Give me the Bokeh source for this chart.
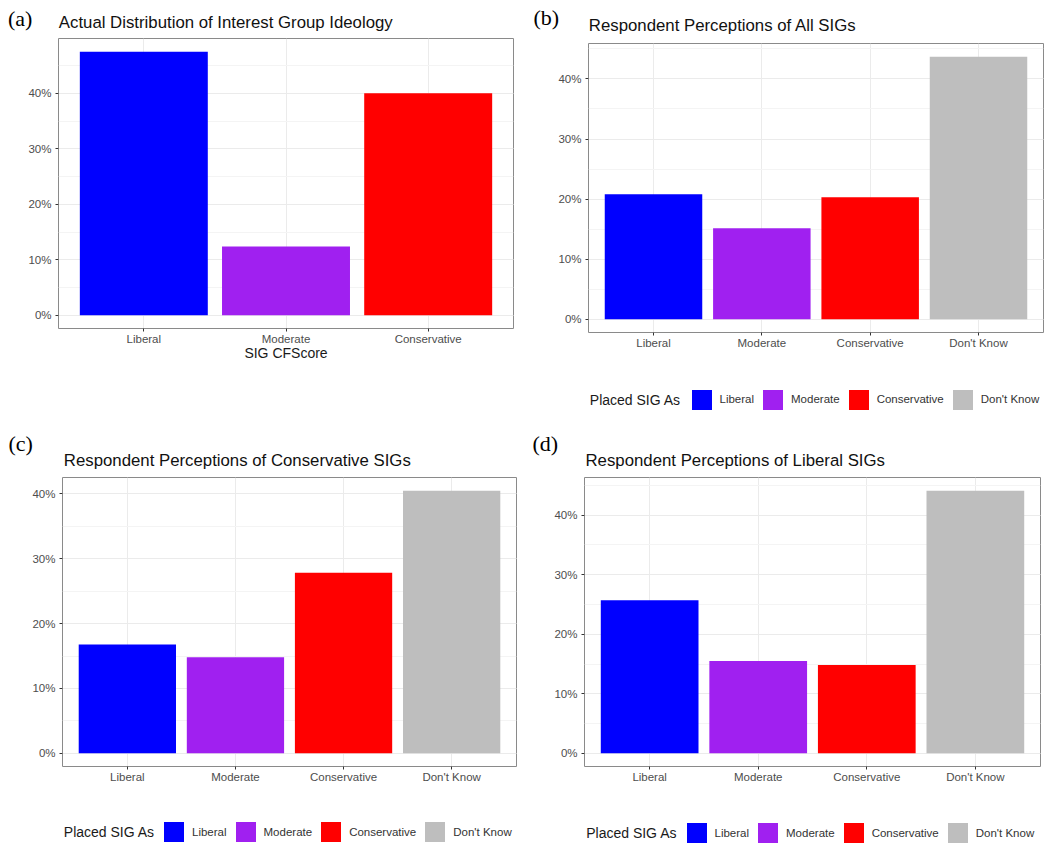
from bokeh.plotting import figure
from bokeh.models import (Range1d, FixedTicker, SingleIntervalTicker, PrintfTickFormatter,
                          ColumnDataSource, Legend, LegendItem, Label)
from bokeh.layouts import row, column
from bokeh.embed import file_html
from bokeh.resources import INLINE

# ---------------- data ----------------
cats_actual = ["Liberal", "Moderate", "Conservative"]
cats_placed = ["Liberal", "Moderate", "Conservative", "Don't Know"]
bar_colors = ["#0000FF", "#A020F0", "#FF0000", "#BEBEBE"]

actual_pct = [47.5, 12.4, 40.0]                 # (a) SIG CFScore distribution
all_sigs_pct = [20.8, 15.15, 20.3, 43.7]        # (b) all SIGs
cons_sigs_pct = [16.8, 14.8, 27.85, 40.5]       # (c) conservative SIGs
lib_sigs_pct = [25.7, 15.5, 14.85, 44.1]        # (d) liberal SIGs

titles = ["Actual Distribution of Interest Group Ideology",
          "Respondent Perceptions of All SIGs",
          "Respondent Perceptions of Conservative SIGs",
          "Respondent Perceptions of Liberal SIGs"]
letters = ["(a)", "(b)", "(c)", "(d)"]
xlabel_a = "SIG CFScore"
legend_title = "Placed SIG As"

FONT = "Liberation Sans"
SERIF = "Liberation Serif"


def blank_fig(w, h, **kw):
    f = figure(width=w, height=h, min_border=0, x_range=Range1d(0, w), y_range=Range1d(h, 0),
               x_axis_type=None, y_axis_type=None, output_backend="svg",
               toolbar_location=None, **kw)
    f.outline_line_color = None
    f.background_fill_color = "white"
    f.border_fill_color = "white"
    return f


def header_fig(w, h, letter, lpos, title, tpos):
    f = blank_fig(w, h)
    f.add_layout(Label(x=lpos[0], y=lpos[1], text=letter, text_font=SERIF,
                       text_font_size="22px", text_color="#000000",
                       text_baseline="alphabetic", text_align="left"))
    f.add_layout(Label(x=tpos[0], y=tpos[1], text=title, text_font=FONT,
                       text_font_size="16.8px", text_color="#111111",
                       text_baseline="alphabetic", text_align="left"))
    return row(f, spacing=0)


def legend_fig(w, h, cats, cols, item_left, item_top, tpos):
    f = blank_fig(w, h, extra_x_ranges={"off": Range1d(-1001, -1000)})
    # zero-height swatch carriers for the legend keys (not visible)
    sw = ColumnDataSource(dict(x=list(range(1, len(cats) + 1)), color=cols[:len(cats)]))
    r = f.vbar(x="x", top=0, bottom=0, width=0.9, fill_color="color", line_color=None,
               source=sw, x_range_name="off")
    items = [LegendItem(label=c, renderers=[r], index=i) for i, c in enumerate(cats)]
    leg = Legend(items=items, orientation="horizontal",
                 location=(item_left, h - 25 - item_top),
                 glyph_width=25, glyph_height=25, label_standoff=6, spacing=6,
                 padding=0, margin=0, label_height=25, label_width=10,
                 label_text_font=FONT, label_text_font_size="11.5px",
                 label_text_color="#333333", background_fill_alpha=0,
                 border_line_color=None)
    f.add_layout(leg, "center")
    f.add_layout(Label(x=tpos[0], y=tpos[1], text=legend_title, text_font=FONT,
                       text_font_size="14px", text_color="#1a1a1a",
                       text_baseline="alphabetic", text_align="left"))
    return row(f, spacing=0)


def bar_fig(cats, vals, cols, g, xlabel=None):
    n = len(cats)
    xs = list(range(1, n + 1))
    vmax = max(vals)
    p = figure(width=g["w"], height=g["h"],
               min_border_left=g["l"], min_border_right=g["r"],
               min_border_top=g["t"], min_border_bottom=g["b"],
               x_range=Range1d(1 - 0.6, n + 0.6),
               y_range=Range1d(-0.05 * vmax, 1.05 * vmax),
               output_backend="svg", toolbar_location=None)
    p.background_fill_color = "white"
    p.border_fill_color = "white"
    p.outline_line_color = "#8a8a8a"
    p.outline_line_width = 1

    src = ColumnDataSource(dict(x=xs, top=vals, cat=cats, color=cols[:n]))
    p.vbar(x="x", top="top", bottom=0, width=0.9, fill_color="color",
           line_color=None, source=src)

    xt = FixedTicker(ticks=xs, minor_ticks=[])
    yt = SingleIntervalTicker(interval=10, num_minor_ticks=2)
    p.xaxis.ticker = xt
    p.xgrid.ticker = xt
    p.yaxis.ticker = yt
    p.ygrid.ticker = yt
    p.xaxis.major_label_overrides = {x: c for x, c in zip(xs, cats)}
    p.yaxis.formatter = PrintfTickFormatter(format="%d%%")
    for ax in (p.xaxis, p.yaxis):
        ax.axis_line_color = None
        ax.major_tick_line_color = "#333333"
        ax.major_tick_in = 0
        ax.major_tick_out = 3
        ax.minor_tick_line_color = None
        ax.major_label_text_font = FONT
        ax.major_label_text_font_size = "11.5px"
        ax.major_label_text_color = "#4d4d4d"
    p.xaxis.major_label_standoff = 1
    p.yaxis.major_label_standoff = 3
    if xlabel:
        p.xaxis.axis_label = xlabel
        p.xaxis.axis_label_text_font = FONT
        p.xaxis.axis_label_text_font_style = "normal"
        p.xaxis.axis_label_text_font_size = "14px"
        p.xaxis.axis_label_text_color = "#1a1a1a"
        p.xaxis.axis_label_standoff = -3

    p.xgrid.grid_line_color = "#ebebeb"
    p.ygrid.grid_line_color = "#ebebeb"
    p.ygrid.minor_grid_line_color = "#f4f4f4"
    return row(p, spacing=0)


# ---- panel (a) ----
hA = header_fig(520, 36, letters[0], (7.5, 17.5), titles[0], (58.3, 22.3))
pA = bar_fig(cats_actual, actual_pct, bar_colors,
             dict(w=520, h=384, l=58, r=7, t=2, b=92), xlabel=xlabel_a)
colA = column(hA, pA, spacing=0)

# ---- panel (b) ----
hB = header_fig(528, 40, letters[1], (13, 16.5), titles[1], (68.3, 25.3))
pB = bar_fig(cats_placed, all_sigs_pct, bar_colors,
             dict(w=528, h=335, l=68, r=5, t=3, b=43))
lB = legend_fig(528, 45, cats_placed, bar_colors, 168.5, 11.8, (69.3, 24.3))
colB = column(hB, pB, lB, spacing=0)

# ---- panel (c) ----
hC = header_fig(520, 54, letters[2], (8, 22.5), titles[2], (63.3, 40))
pC = bar_fig(cats_placed, cons_sigs_pct, bar_colors,
             dict(w=520, h=329, l=62, r=4, t=3, b=37))
lC = legend_fig(520, 40, cats_placed, bar_colors, 161, 16.2, (63.3, 28.7))
colC = column(hC, pC, lC, spacing=0)

# ---- panel (d) ----
hD = header_fig(528, 54, letters[3], (12, 23), titles[3], (65, 40))
pD = bar_fig(cats_placed, lib_sigs_pct, bar_colors,
             dict(w=528, h=329, l=64, r=8, t=3, b=37))
lD = legend_fig(528, 40, cats_placed, bar_colors, 163.5, 17.2, (65.7, 29.7))
colD = column(hD, pD, lD, spacing=0)

layout = column(row(colA, colB, spacing=0), row(colC, colD, spacing=0), spacing=0)

open("out.html", "w").write(file_html(layout, INLINE))
